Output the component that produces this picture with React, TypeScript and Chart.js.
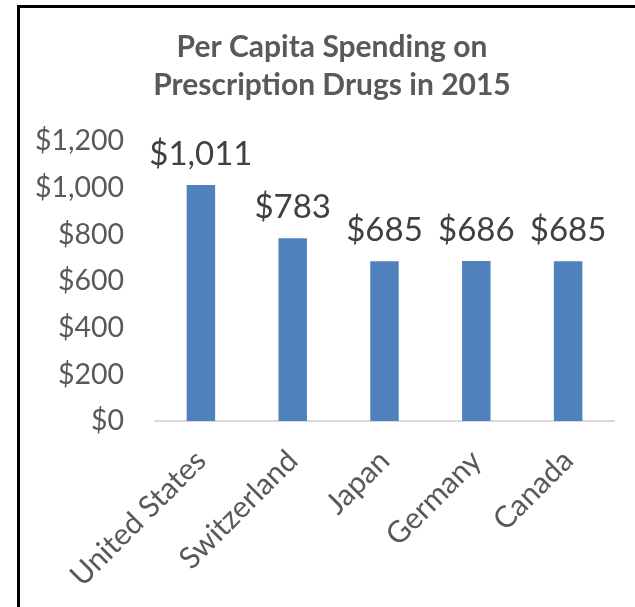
import React, { useEffect, useRef } from "react";
import { Chart, registerables } from "chart.js";

Chart.register(...registerables);

const titleLines = ["Per Capita Spending on", "Prescription Drugs in 2015"];
const countries = ["United States", "Switzerland", "Japan", "Germany", "Canada"];
const spending = [1011, 783, 685, 686, 685];
const yMin = 0;
const yMax = 1200;
const yStep = 200;

const fmt = (v: number) => "$" + Number(v).toLocaleString("en-US");

const TITLE_SIZE = 30;
const TITLE_LH = 38;
const TITLE_PAD_TOP = 28;
const TITLE_CENTER_X = 332;

const dataLabelPlugin = {
  id: "dataLabels",
  afterDatasetsDraw(chart: any) {
    const ctx = chart.ctx;
    const meta = chart.getDatasetMeta(0);
    const ds = chart.data.datasets[0];
    ctx.save();
    ctx.font = "33px Lato";
    ctx.fillStyle = "#404040";
    ctx.textAlign = "center";
    ctx.textBaseline = "alphabetic";
    meta.data.forEach((el: any, i: number) => {
      ctx.fillText(fmt(ds.data[i]), el.x, el.y - 20);
    });
    // title, centred like the reference (offset from the plot centre)
    const tb = chart.titleBlock;
    const top = (tb ? tb.top : 0) + TITLE_PAD_TOP;
    ctx.font = `bold ${TITLE_SIZE}px Lato`;
    ctx.fillStyle = "#595959";
    ctx.textBaseline = "middle";
    titleLines.forEach((line, i) => {
      ctx.fillText(line, TITLE_CENTER_X, top + TITLE_LH * (i + 0.5));
    });
    ctx.restore();
  },
};

export default function App() {
  const ref = useRef<HTMLCanvasElement | null>(null);
  useEffect(() => {
    if (!ref.current) return;
    const chart = new Chart(ref.current, {
      type: "bar",
      data: {
        labels: countries,
        datasets: [
          {
            data: spending,
            backgroundColor: "#4F81BD",
            barPercentage: 0.31,
            categoryPercentage: 1,
          },
        ],
      },
      plugins: [dataLabelPlugin],
      options: {
        responsive: false,
        animation: false,
        layout: { padding: { left: 0, right: 21, top: 0, bottom: 0 } },
        plugins: {
          legend: { display: false },
          tooltip: { enabled: false },
          title: {
            display: true,
            text: titleLines,
            color: "rgba(0,0,0,0)",
            font: { family: "Lato", size: TITLE_SIZE, weight: "bold", lineHeight: TITLE_LH / TITLE_SIZE },
            padding: { top: TITLE_PAD_TOP, bottom: 37 },
          },
        },
        scales: {
          x: {
            grid: { display: false, drawTicks: false },
            border: { display: true, color: "#D9D9D9", width: 2 },
            ticks: {
              color: "#595959",
              font: { family: "Lato", size: 30 },
              minRotation: 45,
              maxRotation: 45,
              padding: 22,
              autoSkip: false,
            },
            afterFit: (s: any) => {
              s.height = 186;
            },
          },
          y: {
            min: yMin,
            max: yMax,
            grid: { display: false, drawTicks: false },
            border: { display: false },
            ticks: {
              stepSize: yStep,
              color: "#595959",
              font: { family: "Lato", size: 28.5 },
              padding: 31,
              callback: (v: any) => fmt(v),
            },
            afterFit: (s: any) => {
              s.width = 155;
            },
          },
        },
      },
    });
    return () => chart.destroy();
  }, []);
  return (
    <div style={{ position: "fixed", left: 0, top: 0, width: 635, height: 607, background: "#fff" }}>
      <canvas ref={ref} width={635} height={607} style={{ position: "absolute", left: 0, top: 0 }} />
      <div
        style={{
          position: "absolute",
          left: 17,
          top: 5,
          width: 640,
          height: 620,
          borderLeft: "3px solid #000",
          borderTop: "3px solid #000",
          boxSizing: "border-box",
          pointerEvents: "none",
        }}
      />
    </div>
  );
}
